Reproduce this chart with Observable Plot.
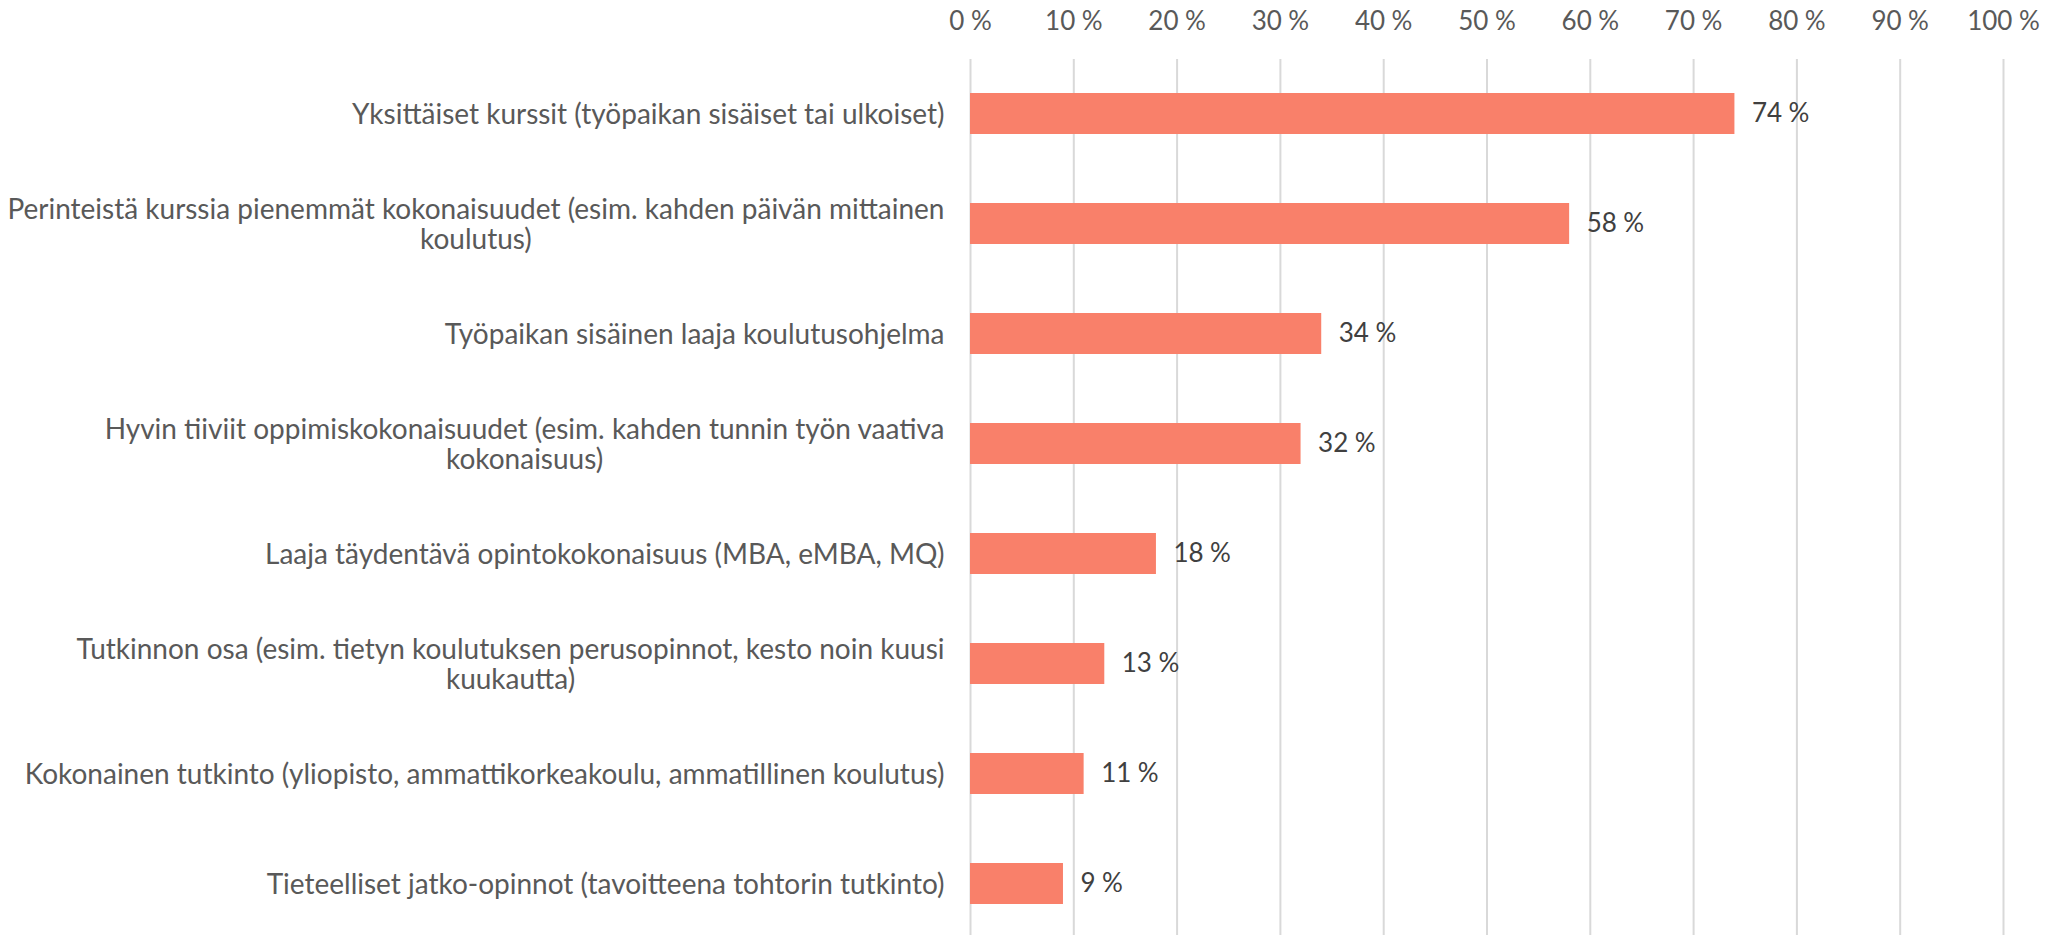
<!DOCTYPE html>
<html>
<head>
<meta charset="utf-8">
<script src="https://cdn.jsdelivr.net/npm/d3@7"></script>
<script src="https://cdn.jsdelivr.net/npm/@observablehq/plot@0.6"></script>
<style>
  html, body { margin: 0; padding: 0; background: #ffffff; }
  #chart svg { display: block; }
</style>
</head>
<body>
<div id="chart"></div>
<script>
const categories = [
  "Yksittäiset kurssit (työpaikan sisäiset tai ulkoiset)",
  "Perinteistä kurssia pienemmät kokonaisuudet (esim. kahden päivän mittainen\nkoulutus)",
  "Työpaikan sisäinen laaja koulutusohjelma",
  "Hyvin tiiviit oppimiskokonaisuudet (esim. kahden tunnin työn vaativa\nkokonaisuus)",
  "Laaja täydentävä opintokokonaisuus (MBA, eMBA, MQ)",
  "Tutkinnon osa (esim. tietyn koulutuksen perusopinnot, kesto noin kuusi\nkuukautta)",
  "Kokonainen tutkinto (yliopisto, ammattikorkeakoulu, ammatillinen koulutus)",
  "Tieteelliset jatko-opinnot (tavoitteena tohtorin tutkinto)"
];
const values = [74, 58, 34, 32, 18, 13, 11, 9];
const xTicks = [0, 10, 20, 30, 40, 50, 60, 70, 80, 90, 100];

const data = categories.map((c, i) => ({category: c, value: values[i]}));
const FONT = "Lato, 'Open Sans', sans-serif";

const chart = Plot.plot({
  width: 2049,
  height: 935,
  marginTop: 59,
  marginBottom: -4,
  marginLeft: 970,
  marginRight: 46,
  style: {fontFamily: FONT, background: "#ffffff"},
  x: {domain: [0, 100], ticks: xTicks, axis: null, label: null},
  y: {domain: categories, paddingInner: 0.627, paddingOuter: 0.3135, axis: null, label: null},
  marks: [
    Plot.gridX(xTicks, {stroke: "#d9d9d9", strokeOpacity: 1, strokeWidth: 2}),
    Plot.axisX(xTicks, {anchor: "top", tickSize: 0, tickPadding: 30, fontSize: 26, label: null,
      fill: "#595959", tickFormat: d => `${d}\u202f%`}),
    Plot.barX(data, {x: "value", y: "category", fill: "#F9806A"}),
    Plot.text(data, {x: "value", y: "category", text: d => `${d.value}\u202f%`,
      textAnchor: "start", dx: 17, fontSize: 26, fill: "#404040"}),
    Plot.text(data, {x: 0, y: "category", text: "category", textAnchor: "end",
      dx: -26, fontSize: 28, lineHeight: 1.08, fill: "#595959", className: "cat-labels"})
  ]
});

document.getElementById("chart").appendChild(chart);

// Center the lines of multi-line category labels within their right-aligned block
chart.querySelectorAll(".cat-labels text").forEach(t => {
  const spans = t.querySelectorAll("tspan");
  if (spans.length > 1) {
    let maxW = 0;
    spans.forEach(s => { maxW = Math.max(maxW, s.getComputedTextLength()); });
    t.setAttribute("text-anchor", "middle");
    spans.forEach(s => s.setAttribute("x", -maxW / 2));
  }
});
</script>
</body>
</html>
